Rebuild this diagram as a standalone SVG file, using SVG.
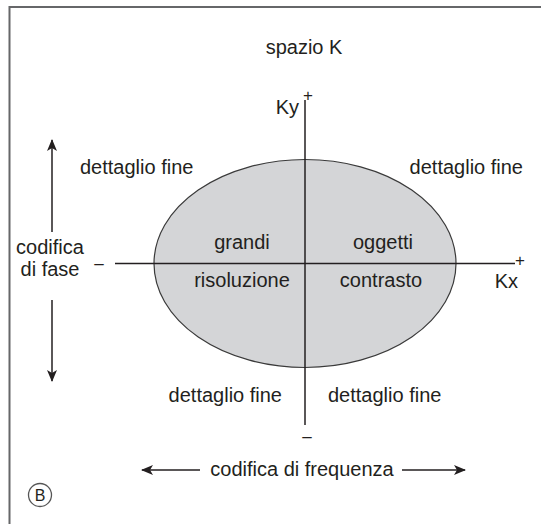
<svg xmlns="http://www.w3.org/2000/svg" width="541" height="524" viewBox="0 0 541 524">
<defs>
<style>
.t{font-family:"Liberation Sans",Arial,sans-serif;font-size:20px;fill:#231f20}
.m{text-anchor:middle}
.e{text-anchor:end}
.ax{stroke:#231f20;stroke-width:1.5;fill:none}
.ar{stroke:#231f20;stroke-width:1.5;fill:none}
.s{font-family:"Liberation Sans",Arial,sans-serif;font-size:17px;fill:#231f20;text-anchor:middle}
</style>
<marker id="ah" viewBox="0 0 12 10" refX="11" refY="5" markerWidth="12" markerHeight="10" markerUnits="userSpaceOnUse" orient="auto-start-reverse">
<path d="M0,0 L12,5 L0,10 L3,5 Z" fill="#231f20"/>
</marker>
</defs>
<rect width="541" height="524" fill="#fff"/>
<g id="frame">
<path d="M9.5,524 V7 H541" stroke="#666769" stroke-width="2" fill="none"/>
</g>
<g id="ellipse">
<ellipse cx="305" cy="263.5" rx="151" ry="104" fill="#d4d5d7" stroke="#3a3a3a" stroke-width="1.2"/>
</g>
<g id="connectors">
<line class="ax" x1="305" y1="100" x2="305" y2="425"/>
<line class="ax" x1="115" y1="263.5" x2="515" y2="263.5"/>
<line class="ar" x1="52" y1="232" x2="52" y2="140" marker-end="url(#ah)"/>
<line class="ar" x1="52" y1="300" x2="52" y2="381" marker-end="url(#ah)"/>
<line class="ar" x1="200" y1="470" x2="142" y2="470" marker-end="url(#ah)"/>
<line class="ar" x1="402" y1="470" x2="465" y2="470" marker-end="url(#ah)"/>
</g>
<g id="labels">
<text class="t m" x="304" y="54">spazio K</text>
<text class="t e" x="299" y="114">Ky</text>
<text class="s" x="308" y="101">+</text>
<text class="s" x="520" y="266">+</text>
<text class="s" x="99" y="269">–</text>
<text class="s" x="307" y="442">–</text>
<text class="t e" x="518" y="288">Kx</text>
<text class="t" x="80" y="174">dettaglio fine</text>
<text class="t e" x="523" y="174">dettaglio fine</text>
<text class="t m" x="50" y="254">codifica</text>
<text class="t m" x="50" y="276">di fase</text>
<text class="t m" x="242" y="249">grandi</text>
<text class="t m" x="383" y="249">oggetti</text>
<text class="t m" x="242" y="287">risoluzione</text>
<text class="t m" x="381" y="287">contrasto</text>
<text class="t e" x="282" y="402">dettaglio fine</text>
<text class="t" x="328" y="402">dettaglio fine</text>
<text class="t m" x="302" y="476">codifica di frequenza</text>
</g>
<g id="badge">
<circle cx="40" cy="495" r="11.5" fill="none" stroke="#555" stroke-width="1.3"/>
<text x="40" y="501" style="font-family:'Liberation Sans',Arial,sans-serif;font-size:16px;fill:#231f20;text-anchor:middle">B</text>
</g>
</svg>
